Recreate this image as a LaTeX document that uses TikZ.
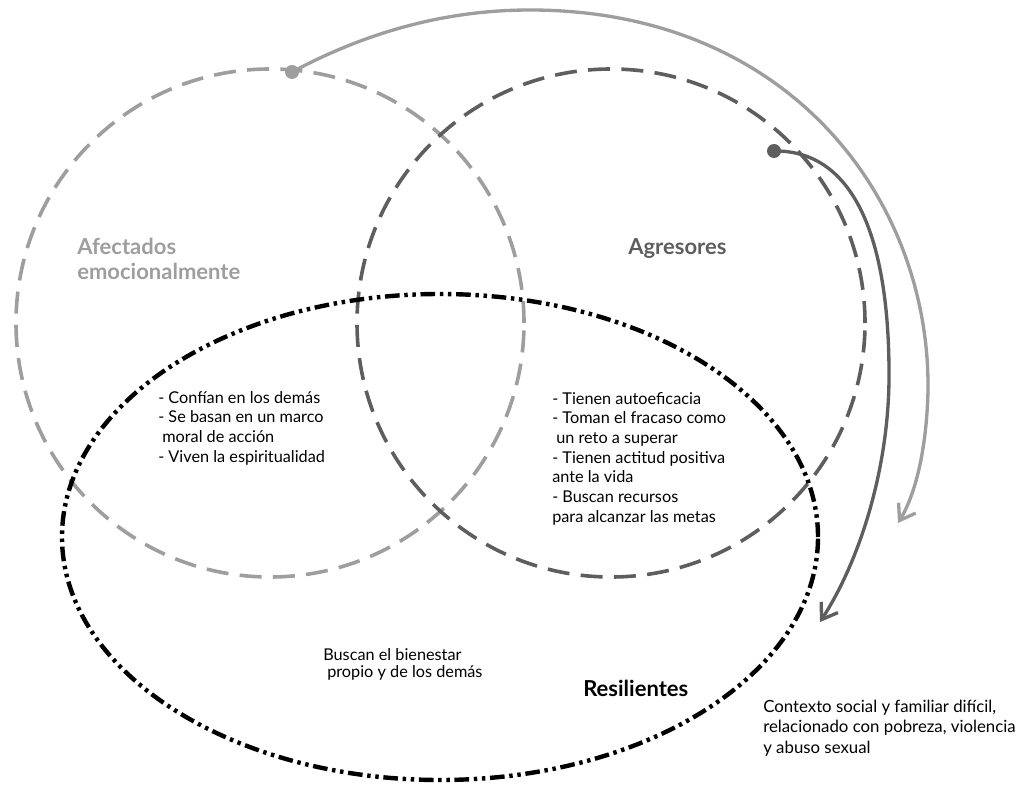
\documentclass[tikz,border=0pt]{standalone}
\usepackage{fontspec}
\setmainfont{Lato}
\usetikzlibrary{arrows.meta,shapes.geometric}
\definecolor{lgray}{HTML}{9E9E9E}
\definecolor{dgray}{HTML}{5E5E5E}
\begin{document}
\begin{tikzpicture}[x=0.75pt,y=-0.75pt,
  setcircle/.style={circle, draw, line width=2.7pt, dash pattern=on 16.5pt off 8.5pt, minimum size=381pt, inner sep=0pt},
  resset/.style={ellipse, draw=black, line width=3.3pt, dash pattern=on 11pt off 3.5pt on 2.6pt off 3.5pt on 2.6pt off 3.5pt, minimum width=567pt, minimum height=364.5pt, inner sep=0pt},
  dotmark/.style={circle, inner sep=0pt, minimum size=10.5pt},
  curvearrow/.style={line width=2.5pt, -{Straight Barb[length=11pt,width=15pt]}},
  listtxt/.style={anchor=north west, inner sep=0pt, align=left, font=\fontsize{12.2}{14.75}\selectfont},
  boldlbl/.style={anchor=north west, inner sep=0pt, align=left, font=\fontsize{16.5}{18.5}\selectfont\bfseries}]
\useasboundingbox (0,0) rectangle (1016,787);

% sets
\node[setcircle, draw=lgray] (afe) at (270,323) {};
\node[setcircle, draw=dgray] (agr) at (611,323) {};
\node[resset] (res) at (440,537) {};

% labels
\node[boldlbl, text=lgray] (lafe) at (77,238) {Afectados\\emocionalmente};
\node[boldlbl, text=dgray] (lagr) at (628,238) {Agresores};
\node[boldlbl, text=black] (lres) at (583,680) {Resilientes};

% lists
\node[listtxt] (tleft) at (158,391) {- Confían en los demás\\- Se basan en un marco\\\hspace*{3pt}moral de acción\\- Viven la espiritualidad};
\node[listtxt] (tright) at (552,392) {- Tienen autoeficacia\\- Toman el fracaso como\\\hspace*{3pt}un reto a superar\\- Tienen actitud positiva\\ante la vida\\- Buscan recursos\\para alcanzar las metas};
\node[listtxt, font=\fontsize{12.2}{12.75}\selectfont] (tbien) at (323,648) {Buscan el bienestar\\\hspace*{3pt}propio y de los demás};
\node[listtxt, font=\fontsize{12.6}{15.2}\selectfont] (tctx) at (763,700) {Contexto social y familiar difícil,\\relacionado con pobreza, violencia\\y abuso sexual};

% arrows
\node[dotmark, fill=lgray] (ldot) at (292,72) {};
\node[dotmark, fill=dgray] (ddot) at (774,151) {};
\coordinate (ltip) at (898,523);
\coordinate (dtip) at (820,622);
\draw[curvearrow, lgray] (ldot.center) .. controls (380,25) and (460,10) .. (530,10)
  .. controls (790,10) and (930,200) .. (928,390)
  .. controls (927,440) and (918,490) .. (ltip);
\draw[curvearrow, dgray] (ddot.center) .. controls (850,150) and (890,230) .. (889,380)
  .. controls (888,470) and (860,560) .. (dtip);
\end{tikzpicture}
\end{document}
